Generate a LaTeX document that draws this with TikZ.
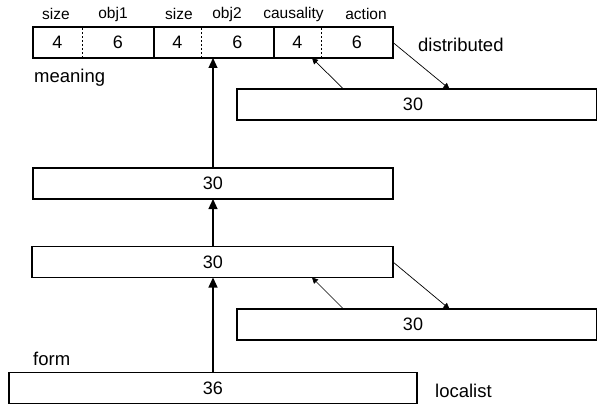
\documentclass[tikz,border=0pt]{standalone}
\usepackage{fontspec}
\setmainfont{Liberation Sans}
\usetikzlibrary{arrows.meta}
\usetikzlibrary{positioning}

\tikzset{
    unit/.style={draw, line width=1.2pt, inner sep=0pt, outer sep=0pt, minimum height=31pt, font=\fontsize{18}{20}\selectfont},
    cell/.style={inner sep=0pt, outer sep=0pt, minimum height=31pt, font=\fontsize{18}{20}\selectfont},
    field/.style={inner sep=0pt, font=\fontsize{15.5}{17}\selectfont},
    tag/.style={inner sep=0pt, font=\fontsize{18.5}{20}\selectfont},
    divider/.style={line width=1pt, dash pattern=on 2pt off 2pt},
    feed/.style={line width=1.2pt, -{Triangle[length=10pt,width=9pt]}},
    loop/.style={line width=0.7pt, -{Triangle[length=6pt,width=6pt]}}
}

\begin{document}
\begin{tikzpicture}[x=1pt, y=1pt]
    \useasboundingbox (0,0) rectangle (597,405);

    % meaning layer (distributed)
    \node[unit, minimum width=121pt] (grpA) at (93.5, 362.5) {};
    \node[unit, minimum width=120pt] (grpB) at (214, 362.5) {};
    \node[unit, minimum width=119pt] (grpC) at (333.5, 362.5) {};
    \draw[divider] (82, 347) -- (82, 378);
    \draw[divider] (201, 347) -- (201, 378);
    \draw[divider] (321, 347) -- (321, 378);

    \node[cell] (sizeA) at (57.5, 362.5) {4};
    \node[cell] (objA) at (118, 362.5) {6};
    \node[cell] (sizeB) at (177.5, 362.5) {4};
    \node[cell] (objB) at (237.5, 362.5) {6};
    \node[cell] (caus) at (297.5, 362.5) {4};
    \node[cell] (act) at (357, 362.5) {6};

    \node[field] (lsizeA) at (56, 391) {size};
    \node[field] (lobjA) at (113, 391) {obj1};
    \node[field] (lsizeB) at (179, 391) {size};
    \node[field] (lobjB) at (227, 391) {obj2};
    \node[field] (lcaus) at (293.5, 391) {causality};
    \node[field] (lact) at (366, 391) {action};

    \node[tag, anchor=west] (meaning) at (34, 327) {meaning};
    \node[tag, anchor=west] (distr) at (418, 360) {distributed};

    % hidden layers
    \node[unit, minimum width=360pt] (ctxA) at (417, 300.5) {};
    \node[cell] (ctxAval) at (413, 300.5) {30};
    \node[unit, minimum width=360pt] (hidB) at (213, 221.5) {30};
    \node[unit, minimum width=361pt] (hidA) at (212.5, 143) {};
    \node[cell] (hidAval) at (213, 143) {30};
    \node[unit, minimum width=360pt] (ctxB) at (417, 80.5) {};
    \node[cell] (ctxBval) at (413, 80.5) {30};

    % form layer (localist)
    \node[unit, minimum width=408pt] (form) at (213, 17) {36};
    \node[tag, anchor=west] (formlbl) at (33, 46) {form};
    \node[tag, anchor=west] (local) at (435, 14) {localist};

    % feed-forward
    \draw[feed] (form.north) -- (form.north |- hidA.south);
    \draw[feed] (hidA.north -| form.north) -- (hidB.south -| form.north);
    \draw[feed] (hidB.north -| form.north) -- (hidB.north |- grpB.south);

    % recurrent copies
    \draw[loop] (grpC.east) -- ([xshift=212.5pt]ctxA.north west);
    \draw[loop] ([xshift=106.5pt]ctxA.north west) -- ([xshift=14.5pt]caus.south);
    \draw[loop] (hidA.east) -- ([xshift=212.5pt]ctxB.north west);
    \draw[loop] ([xshift=106.5pt]ctxB.north west) -- ([xshift=99.5pt]hidA.south);
\end{tikzpicture}
\end{document}
